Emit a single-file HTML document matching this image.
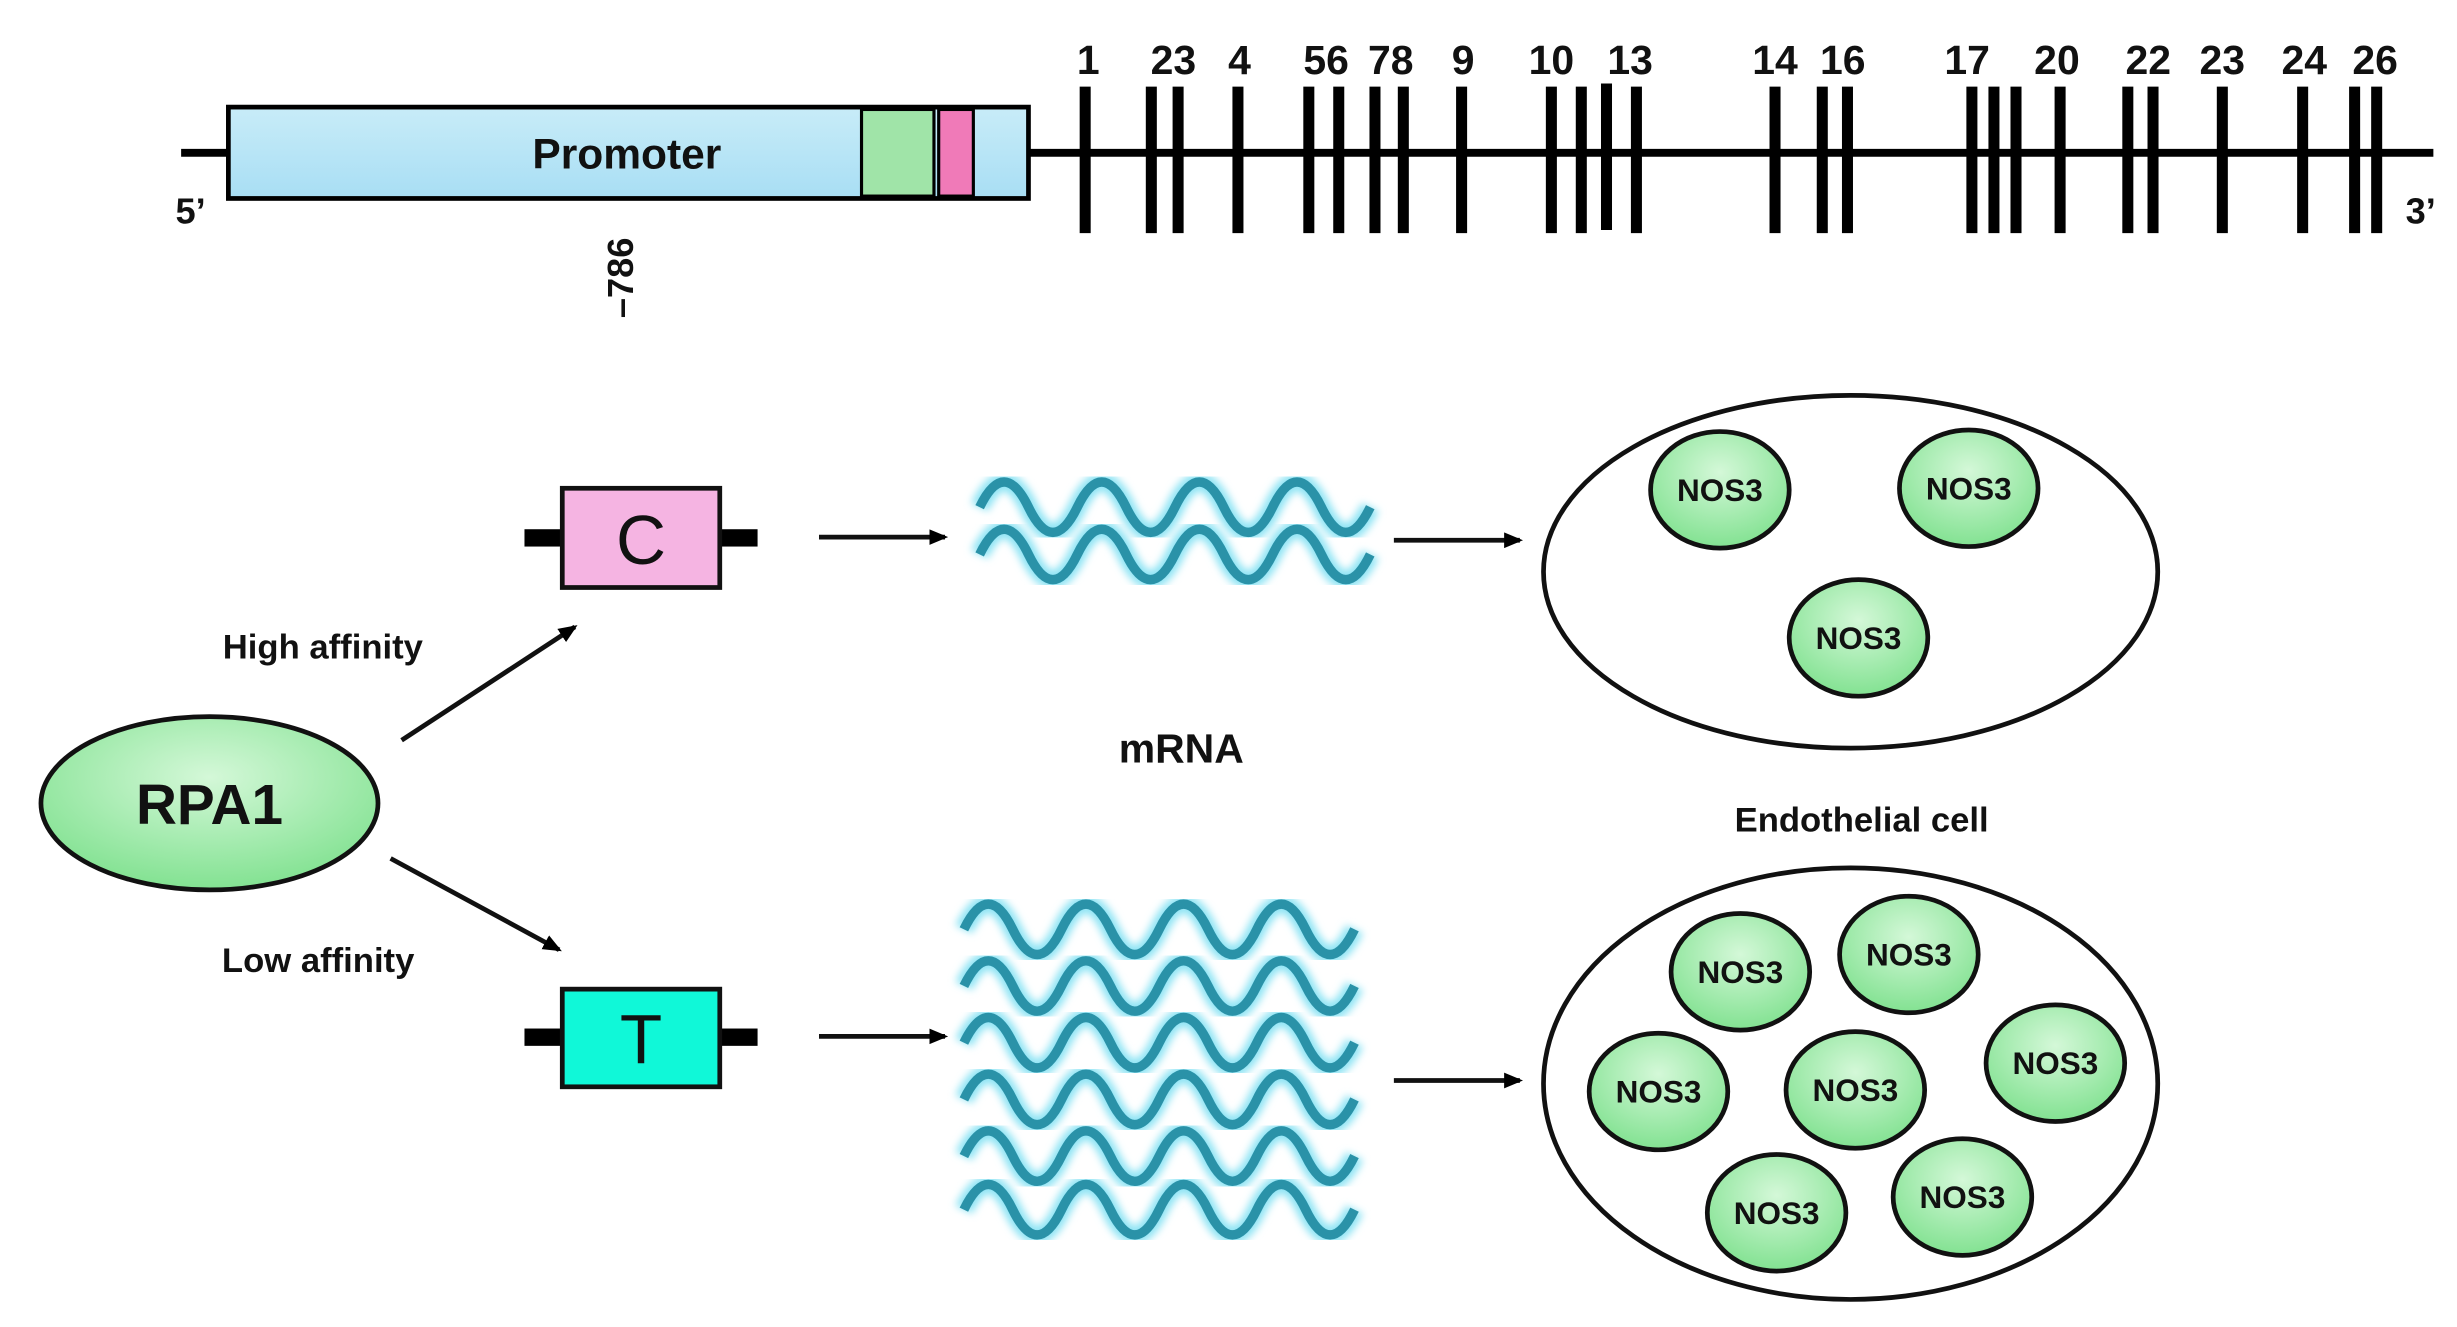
<!DOCTYPE html>
<html><head><meta charset="utf-8"><style>
html,body{margin:0;padding:0;background:#fff}
svg{display:block}
text{font-family:"Liberation Sans",Arial,sans-serif;font-weight:bold;fill:#111}
</style></head><body>
<svg width="2457" height="1327" viewBox="0 0 1560 842.5" preserveAspectRatio="none" xmlns="http://www.w3.org/2000/svg">
<defs>
<linearGradient id="blue" x1="0" y1="0" x2="0" y2="1"><stop offset="0" stop-color="#c8ecf8"/><stop offset="1" stop-color="#a8def4"/></linearGradient>
<radialGradient id="grn" cx="0.5" cy="0.35" r="0.7"><stop offset="0" stop-color="#d4f8d8"/><stop offset="1" stop-color="#7ce08c"/></radialGradient>
<filter id="bl"><feGaussianBlur stdDeviation="2.5"/></filter>
<marker id="ah" markerWidth="12" markerHeight="10" refX="10" refY="5" orient="auto" markerUnits="userSpaceOnUse"><path d="M0,0 L12,5 L0,10 z"/></marker>
<g id="wave">
<path d="M0,0 q15.5,-32 31,0 t31,0 t31,0 t31,0 t31,0 t31,0 t31,0 t31,0" fill="none" stroke="#8fe4f4" stroke-width="12" filter="url(#bl)"/>
<path d="M0,0 q15.5,-32 31,0 t31,0 t31,0 t31,0 t31,0 t31,0 t31,0 t31,0" fill="none" stroke="#2a92a8" stroke-width="6"/>
</g>
<g id="nos"><ellipse rx="44" ry="37" fill="url(#grn)" stroke="#111" stroke-width="3"/><text y="7" text-anchor="middle" font-size="20">NOS3</text></g>
</defs>

<line x1="115" y1="97" x2="1545" y2="97" stroke="#000" stroke-width="5"/>
<rect x="145" y="68" width="508" height="58" fill="url(#blue)" stroke="#000" stroke-width="3"/>
<rect x="547" y="69.5" width="46" height="55" fill="#a0e4a8" stroke="#000" stroke-width="2"/>
<rect x="596" y="69.5" width="22" height="55" fill="#f07ab8" stroke="#000" stroke-width="2"/>
<text x="398" y="107" text-anchor="middle" font-size="27">Promoter</text>
<text x="121" y="142" text-anchor="middle" font-size="23">5’</text>
<text x="1537" y="142" text-anchor="middle" font-size="23">3’</text>
<text transform="translate(402,202) rotate(-90)" font-size="23">–786</text>
<g stroke="#000" stroke-width="7">
<line x1="689" y1="55" x2="689" y2="148"/><line x1="731" y1="55" x2="731" y2="148"/><line x1="748" y1="55" x2="748" y2="148"/><line x1="786" y1="55" x2="786" y2="148"/>
<line x1="831" y1="55" x2="831" y2="148"/><line x1="850" y1="55" x2="850" y2="148"/><line x1="873" y1="55" x2="873" y2="148"/><line x1="891" y1="55" x2="891" y2="148"/>
<line x1="928" y1="55" x2="928" y2="148"/><line x1="985" y1="55" x2="985" y2="148"/><line x1="1004" y1="55" x2="1004" y2="148"/><line x1="1020" y1="53" x2="1020" y2="146"/>
<line x1="1039" y1="55" x2="1039" y2="148"/><line x1="1127" y1="55" x2="1127" y2="148"/><line x1="1157" y1="55" x2="1157" y2="148"/><line x1="1173" y1="55" x2="1173" y2="148"/>
<line x1="1252" y1="55" x2="1252" y2="148"/><line x1="1266" y1="55" x2="1266" y2="148"/><line x1="1280" y1="55" x2="1280" y2="148"/><line x1="1308" y1="55" x2="1308" y2="148"/>
<line x1="1351" y1="55" x2="1351" y2="148"/><line x1="1367" y1="55" x2="1367" y2="148"/><line x1="1411" y1="55" x2="1411" y2="148"/><line x1="1462" y1="55" x2="1462" y2="148"/>
<line x1="1495" y1="55" x2="1495" y2="148"/><line x1="1509" y1="55" x2="1509" y2="148"/>
</g>
<g font-size="26" text-anchor="middle">
<text x="691" y="47">1</text><text x="745" y="47">23</text><text x="787" y="47">4</text><text x="842" y="47">56</text><text x="883" y="47">78</text>
<text x="929" y="47">9</text><text x="985" y="47">10</text><text x="1035" y="47">13</text><text x="1127" y="47">14</text><text x="1170" y="47">16</text>
<text x="1249" y="47">17</text><text x="1306" y="47">20</text><text x="1364" y="47">22</text><text x="1411" y="47">23</text><text x="1463" y="47">24</text><text x="1508" y="47">26</text>
</g>

<ellipse cx="133" cy="510" rx="107" ry="55" fill="url(#grn)" stroke="#111" stroke-width="3"/>
<text x="133" y="523" text-anchor="middle" font-size="36">RPA1</text>
<text x="205" y="418" text-anchor="middle" font-size="22">High affinity</text>
<text x="202" y="617" text-anchor="middle" font-size="22">Low affinity</text>
<g stroke="#111" stroke-width="3" marker-end="url(#ah)">
<line x1="255" y1="470" x2="365" y2="398"/>
<line x1="248" y1="545" x2="355" y2="603"/>
<line x1="520" y1="341" x2="600" y2="341"/>
<line x1="520" y1="658" x2="600" y2="658"/>
<line x1="885" y1="343" x2="965" y2="343"/>
<line x1="885" y1="686" x2="965" y2="686"/>
</g>

<rect x="333" y="336" width="148" height="11" fill="#000"/>
<rect x="357" y="310" width="100" height="63" fill="#f5b4e2" stroke="#111" stroke-width="3"/>
<text x="407" y="358" text-anchor="middle" font-size="44" style="font-weight:normal">C</text>
<rect x="333" y="653" width="148" height="11" fill="#000"/>
<rect x="357" y="628" width="100" height="62" fill="#10f8d8" stroke="#111" stroke-width="3"/>
<text x="407" y="675" text-anchor="middle" font-size="44" style="font-weight:normal">T</text>

<use href="#wave" x="622" y="322"/>
<use href="#wave" x="622" y="352"/>
<text x="750" y="484" text-anchor="middle" font-size="26">mRNA</text>
<use href="#wave" x="612" y="590"/>
<use href="#wave" x="612" y="626"/>
<use href="#wave" x="612" y="662"/>
<use href="#wave" x="612" y="698"/>
<use href="#wave" x="612" y="734"/>
<use href="#wave" x="612" y="768"/>

<ellipse cx="1175" cy="363" rx="195" ry="112" fill="#fff" stroke="#111" stroke-width="3"/>
<use href="#nos" x="1092" y="311"/><use href="#nos" x="1250" y="310"/><use href="#nos" x="1180" y="405"/>
<text x="1182" y="528" text-anchor="middle" font-size="22">Endothelial cell</text>
<ellipse cx="1175" cy="688" rx="195" ry="137" fill="#fff" stroke="#111" stroke-width="3"/>
<use href="#nos" x="1105" y="617"/><use href="#nos" x="1212" y="606"/><use href="#nos" x="1053" y="693"/>
<use href="#nos" x="1178" y="692"/><use href="#nos" x="1305" y="675"/><use href="#nos" x="1128" y="770"/><use href="#nos" x="1246" y="760"/>
</svg>
</body></html>
